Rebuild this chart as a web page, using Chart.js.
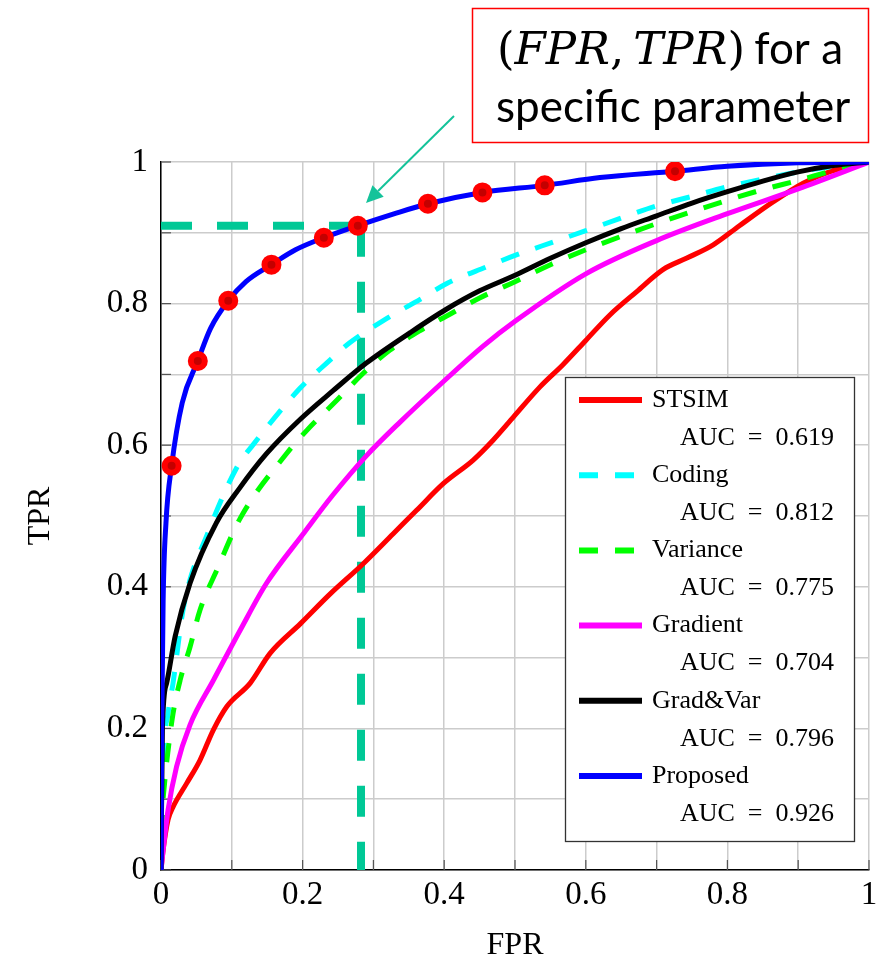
<!DOCTYPE html>
<html>
<head>
<meta charset="utf-8">
<script src="https://cdn.jsdelivr.net/npm/chart.js@4.4.1/dist/chart.umd.min.js"></script>
<style>
  html, body { margin: 0; padding: 0; background: #fff; }
  canvas { display: block; }
</style>
</head>
<body>
<canvas id="roc" width="876" height="965"></canvas>
<script>
// ROC curves (FPR on x, TPR on y)
const fprStsim = [0, 0.003, 0.010, 0.017, 0.036, 0.055, 0.074, 0.093, 0.126, 0.154, 0.197, 0.239, 0.286, 0.328, 0.361, 0.399, 0.441, 0.469, 0.498, 0.535, 0.568, 0.6, 0.634, 0.672, 0.709, 0.742, 0.78, 0.817, 0.865, 0.907, 0.944, 1]
const tprStsim = [0, 0.028, 0.071, 0.089, 0.122, 0.155, 0.198, 0.231, 0.264, 0.306, 0.348, 0.39, 0.433, 0.475, 0.508, 0.546, 0.579, 0.607, 0.64, 0.682, 0.714, 0.748, 0.784, 0.817, 0.848, 0.864, 0.883, 0.91, 0.944, 0.97, 0.986, 1]

const fprCoding = [0, 0.003, 0.010, 0.017, 0.032, 0.067, 0.109, 0.128, 0.196, 0.234, 0.267, 0.319, 0.366, 0.405, 0.46, 0.5, 0.554, 0.6, 0.653, 0.7, 0.752, 0.8, 0.85, 0.9, 0.95, 1]
const tprCoding = [0, 0.15, 0.221, 0.264, 0.372, 0.478, 0.572, 0.598, 0.68, 0.716, 0.745, 0.779, 0.806, 0.829, 0.852, 0.868, 0.887, 0.903, 0.922, 0.938, 0.952, 0.965, 0.976, 0.986, 0.994, 1]

const fprVariance = [0, 0.002, 0.005, 0.010, 0.017, 0.027, 0.041, 0.055, 0.079, 0.112, 0.178, 0.206, 0.248, 0.286, 0.323, 0.366, 0.408, 0.45, 0.5, 0.55, 0.6, 0.65, 0.7, 0.75, 0.8, 0.85, 0.9, 0.95, 1]
const tprVariance = [0, 0.08, 0.122, 0.169, 0.221, 0.268, 0.315, 0.367, 0.424, 0.497, 0.589, 0.621, 0.663, 0.702, 0.734, 0.762, 0.785, 0.808, 0.831, 0.855, 0.876, 0.895, 0.913, 0.93, 0.946, 0.961, 0.974, 0.988, 1]

const fprGradient = [0, 0.003, 0.010, 0.022, 0.041, 0.074, 0.112, 0.149, 0.201, 0.243, 0.290, 0.338, 0.399, 0.455, 0.5, 0.6, 0.7, 0.8, 0.9, 1]
const tprGradient = [0, 0.028, 0.085, 0.146, 0.205, 0.268, 0.339, 0.405, 0.475, 0.53, 0.585, 0.633, 0.69, 0.74, 0.775, 0.842, 0.889, 0.927, 0.962, 1]

const fprGradVar = [0, 0.002, 0.008, 0.020, 0.041, 0.078, 0.11, 0.149, 0.196, 0.243, 0.290, 0.352, 0.403, 0.45, 0.5, 0.55, 0.6, 0.65, 0.7, 0.75, 0.8, 0.85, 0.9, 0.95, 1]
const tprGradVar = [0, 0.2, 0.264, 0.33, 0.405, 0.49, 0.538, 0.588, 0.636, 0.677, 0.716, 0.759, 0.792, 0.818, 0.84, 0.864, 0.886, 0.906, 0.924, 0.942, 0.958, 0.973, 0.986, 0.995, 1]

const fprProposed = [0, 0.001, 0.003, 0.007, 0.015, 0.03, 0.052, 0.07, 0.095, 0.12, 0.156, 0.19, 0.23, 0.278, 0.33, 0.377, 0.454, 0.542, 0.62, 0.726, 0.8, 0.9, 1]
const tprProposed = [0, 0.2, 0.38, 0.49, 0.571, 0.66, 0.719, 0.765, 0.804, 0.831, 0.855, 0.876, 0.893, 0.91, 0.927, 0.941, 0.957, 0.967, 0.978, 0.987, 0.994, 0.999, 1]

// operating points marked on the proposed curve
const markerFpr = [0.015, 0.052, 0.095, 0.156, 0.23, 0.278, 0.377, 0.454, 0.542, 0.726]
const markerTpr = [0.571, 0.719, 0.804, 0.855, 0.893, 0.91, 0.941, 0.957, 0.967, 0.987]

// the highlighted (FPR, TPR) pair
const refFpr = 0.2825
const refTpr = 0.91

const seriesNames = ["STSIM", "Coding", "Variance", "Gradient", "Grad&Var", "Proposed"]
const aucValues = ["0.619", "0.812", "0.775", "0.704", "0.796", "0.926"]
const xTickLabels = ["0", "0.2", "0.4", "0.6", "0.8", "1"]
const yTickLabels = ["0", "0.2", "0.4", "0.6", "0.8", "1"]

const seriesColors = ["#ff0000", "#00ffff", "#00ff00", "#ff00ff", "#000000", "#0000ff"]
const seriesDash = [[], [19, 17], [19, 17], [], [], []]
const teal = "#00c896"
const serif = "\"Liberation Serif\", \"Times New Roman\", serif"

const pairs = (xs, ys) => xs.map((x, i) => ({ x, y: ys[i] }))

const curves = [
  pairs(fprStsim, tprStsim),
  pairs(fprCoding, tprCoding),
  pairs(fprVariance, tprVariance),
  pairs(fprGradient, tprGradient),
  pairs(fprGradVar, tprGradVar),
  pairs(fprProposed, tprProposed)
]

const datasets = curves.map((pts, i) => ({
  label: seriesNames[i],
  data: pts,
  borderColor: seriesColors[i],
  borderWidth: 5,
  borderDash: seriesDash[i],
  pointRadius: 0,
  cubicInterpolationMode: "monotone",
  order: 6 - i
}))

datasets.push({
  label: "points",
  data: pairs(markerFpr, markerTpr),
  showLine: false,
  pointRadius: 7,
  pointBorderWidth: 6,
  pointBorderColor: "#ff0000",
  pointBackgroundColor: "#c40000",
  order: 0
})

datasets.push({
  label: "refH",
  data: [{ x: 0, y: refTpr }, { x: refFpr, y: refTpr }],
  borderColor: teal,
  borderWidth: 8,
  borderDash: [31, 25],
  pointRadius: 0,
  order: 8
}, {
  label: "refV",
  data: [{ x: refFpr, y: refTpr }, { x: refFpr, y: 0 }],
  borderColor: teal,
  borderWidth: 8,
  borderDash: [31, 25],
  pointRadius: 0,
  order: 8
})

// short ticks pointing into the plot, pgfplots style
const innerTicks = {
  id: "innerTicks",
  beforeDatasetsDraw(chart) {
    const { ctx, chartArea, scales } = chart
    ctx.save()
    ctx.strokeStyle = "#555"
    ctx.lineWidth = 1.2
    scales.x.ticks.forEach(t => {
      const px = scales.x.getPixelForValue(t.value)
      ctx.beginPath(); ctx.moveTo(px, chartArea.bottom); ctx.lineTo(px, chartArea.bottom - 10); ctx.stroke()
    })
    scales.y.ticks.forEach(t => {
      const py = scales.y.getPixelForValue(t.value)
      ctx.beginPath(); ctx.moveTo(chartArea.left, py); ctx.lineTo(chartArea.left + 10, py); ctx.stroke()
    })
    ctx.restore()
  }
}

// two-line legend box (name, then AUC below)
const aucLegend = {
  id: "aucLegend",
  afterDatasetsDraw(chart) {
    const ctx = chart.ctx
    ctx.save()
    ctx.fillStyle = "#fff"
    ctx.fillRect(565, 377, 289, 464)
    ctx.strokeStyle = "#333"
    ctx.lineWidth = 1.3
    ctx.strokeRect(565.5, 377.5, 289, 464)
    seriesNames.forEach((name, i) => {
      const y = 400 + 75.2 * i
      ctx.strokeStyle = seriesColors[i]
      ctx.lineWidth = 6
      ctx.setLineDash(seriesDash[i])
      ctx.beginPath(); ctx.moveTo(579, y); ctx.lineTo(642, y); ctx.stroke()
      ctx.setLineDash([])
      ctx.fillStyle = "#000"
      ctx.font = "26px " + serif
      ctx.textBaseline = "middle"
      ctx.textAlign = "left"
      ctx.fillText(name, 652, y)
      ctx.textAlign = "right"
      ctx.fillText("AUC\u2002=\u2002" + aucValues[i], 834, y + 38)
    })
    ctx.restore()
  }
}

// red callout box with arrow to the highlighted point
const callout = {
  id: "callout",
  afterDraw(chart) {
    const ctx = chart.ctx
    ctx.save()
    const x0 = 454, y0 = 116, x1 = 366, y1 = 203
    const ang = Math.atan2(y1 - y0, x1 - x0)
    const hl = 17, hw = 8
    const bx = x1 - hl * Math.cos(ang), by = y1 - hl * Math.sin(ang)
    ctx.strokeStyle = "#14c39a"
    ctx.fillStyle = "#14c39a"
    ctx.lineWidth = 2
    ctx.beginPath(); ctx.moveTo(x0, y0); ctx.lineTo(bx, by); ctx.stroke()
    ctx.beginPath()
    ctx.moveTo(x1, y1)
    ctx.lineTo(bx + hw * Math.sin(ang), by - hw * Math.cos(ang))
    ctx.lineTo(bx - hw * Math.sin(ang), by + hw * Math.cos(ang))
    ctx.closePath(); ctx.fill()

    ctx.fillStyle = "#fff"
    ctx.fillRect(472, 8, 397, 135)
    ctx.strokeStyle = "#ff0000"
    ctx.lineWidth = 1.5
    ctx.strokeRect(472.5, 8.5, 396, 134)

    ctx.fillStyle = "#000"
    ctx.textBaseline = "alphabetic"
    ctx.textAlign = "left"
    let x = 497
    const parts = [["(", false], ["FPR", true], [",\u2009", false], ["TPR", true], [")", false]]
    parts.forEach(([s, it]) => {
      ctx.font = (it ? "italic " : "") + "45px \"DejaVu Serif\""
      ctx.fillText(s, x, 64)
      x += ctx.measureText(s).width
    })
    ctx.font = "44px Lato"
    ctx.fillText(" for a", x - 2, 64)
    ctx.fillText("specific parameter", 496, 122)
    ctx.restore()
  }
}

new Chart(document.getElementById("roc"), {
  type: "line",
  data: { datasets },
  plugins: [innerTicks, aucLegend, callout],
  options: {
    responsive: false,
    animation: false,
    devicePixelRatio: 1,
    layout: { autoPadding: false, padding: { left: 0, right: 7, top: 162, bottom: 0 } },
    plugins: { legend: { display: false }, tooltip: { enabled: false } },
    scales: {
      x: {
        type: "linear",
        min: 0,
        max: 1,
        grid: { color: "#cccccc", lineWidth: 1.5, drawTicks: false },
        border: { color: "#000", width: 1.5 },
        ticks: {
          stepSize: 0.1,
          autoSkip: false,
          maxRotation: 0,
          padding: 6,
          color: "#000",
          font: { family: serif, size: 33 },
          callback: v => {
            const i = Math.round(v * 10)
            return i % 2 === 0 ? xTickLabels[i / 2] : ""
          }
        },
        title: { display: true, text: "FPR", color: "#000", font: { family: serif, size: 32 }, padding: { top: 0, bottom: 0 } },
        afterFit: s => { s.height = 95; s.paddingLeft = 0; s.paddingRight = 0 }
      },
      y: {
        type: "linear",
        min: 0,
        max: 1,
        grid: { color: "#cccccc", lineWidth: 1.5, drawTicks: false },
        border: { color: "#000", width: 1.5 },
        ticks: {
          stepSize: 0.1,
          autoSkip: false,
          padding: 13,
          color: "#000",
          font: { family: serif, size: 33 },
          callback: v => {
            const i = Math.round(v * 10)
            return i % 2 === 0 ? yTickLabels[i / 2] : ""
          }
        },
        title: { display: true, text: "TPR", color: "#000", font: { family: serif, size: 32 }, padding: { top: 21, bottom: 0 } },
        afterFit: s => { s.width = 161; s.paddingTop = 0; s.paddingBottom = 0 }
      }
    }
  }
})
</script>
</body>
</html>
